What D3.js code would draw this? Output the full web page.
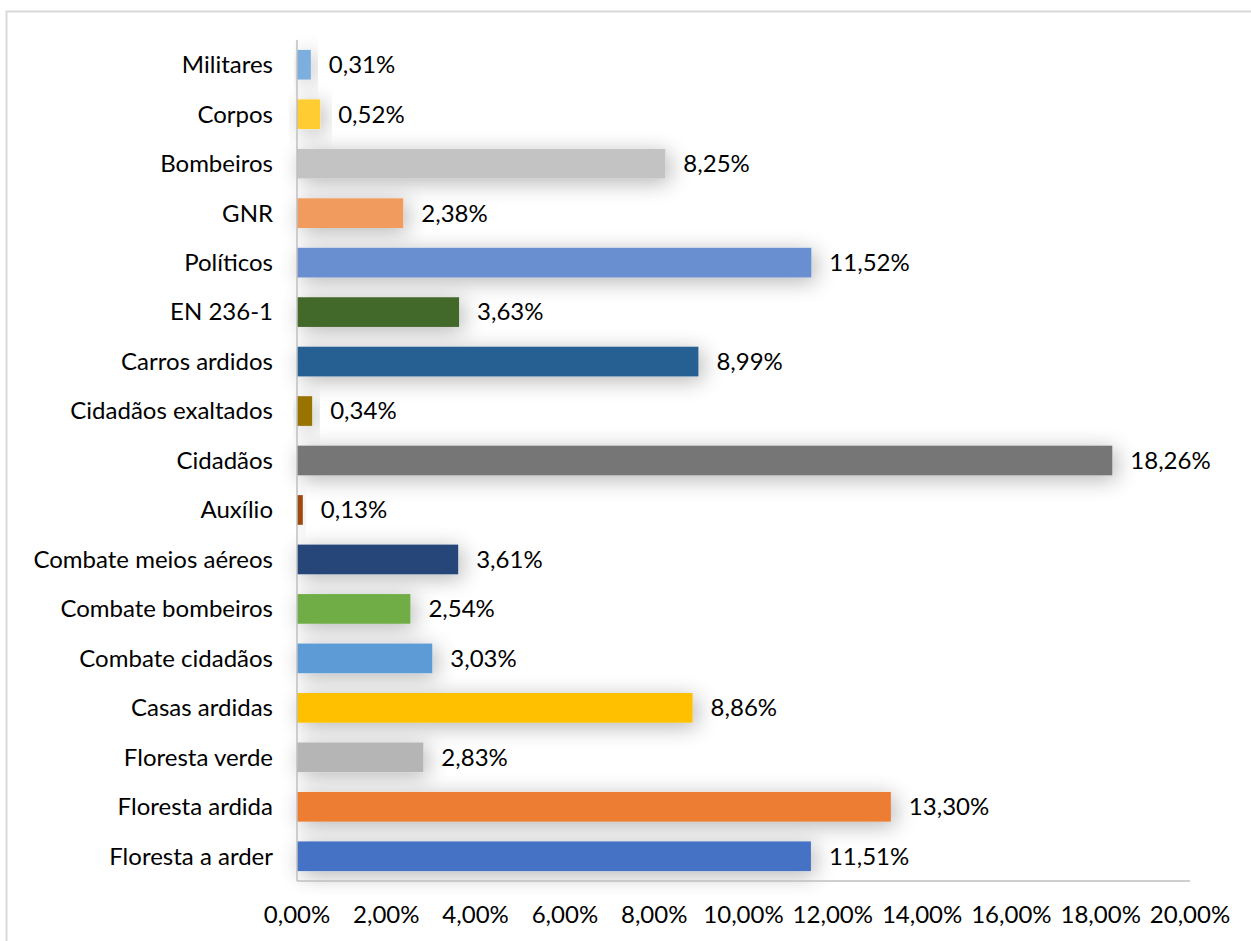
<!DOCTYPE html>
<html><head><meta charset="utf-8">
<script src="https://cdn.jsdelivr.net/npm/d3@7"></script>
<style>
html,body{margin:0;padding:0;background:#fff;}
svg{display:block;}
text{font-family:Lato,"Open Sans",sans-serif;fill:#000;}
</style></head>
<body>
<svg id="chart" width="1251" height="941"></svg>
<script>
const categories = ["Militares","Corpos","Bombeiros","GNR","Políticos","EN 236-1","Carros ardidos","Cidadãos exaltados","Cidadãos","Auxílio","Combate meios aéreos","Combate bombeiros","Combate cidadãos","Casas ardidas","Floresta verde","Floresta ardida","Floresta a arder"];
const values = [0.31,0.52,8.25,2.38,11.52,3.63,8.99,0.34,18.26,0.13,3.61,2.54,3.03,8.86,2.83,13.30,11.51];
const colors = ["#7cafdd","#ffcd33","#c3c3c3","#f29b5e","#6a8fd0","#43682b","#255e91","#997300","#767676","#9e480e","#264478","#70ad47","#5b9bd5","#ffc000","#b5b5b5","#ed7d31","#4472c4"];
const tickValues = [0,2,4,6,8,10,12,14,16,18,20];

const svg = d3.select("#chart");
// frame
svg.append("path").attr("d","M6.5,941 V11.5 H1251").attr("fill","none").attr("stroke","#d9d9d9").attr("stroke-width",2);

const x = d3.scaleLinear().domain([0,20]).range([297,1190]);
const y = d3.scaleBand().domain(categories).range([40,881]).paddingInner(0.4).paddingOuter(0.2);

const defs = svg.append("defs");
const f = defs.append("filter").attr("id","shadow").attr("x","-50%").attr("y","-150%").attr("width","200%").attr("height","400%");
f.append("feGaussianBlur").attr("in","SourceAlpha").attr("stdDeviation",11).attr("result","b");
f.append("feOffset").attr("in","b").attr("dx",4).attr("dy",4).attr("result","o");
f.append("feComponentTransfer").attr("in","o").attr("result","s").append("feFuncA").attr("type","linear").attr("slope",0.3);
const m = f.append("feMerge");
m.append("feMergeNode").attr("in","s");
m.append("feMergeNode").attr("in","SourceGraphic");

const fmt = v => v.toFixed(2).replace(".", ",") + "%";

svg.append("g").selectAll("rect").data(values).join("rect")
  .attr("x", x(0)).attr("y",(d,i)=>y(categories[i]))
  .attr("width", d => x(d)-x(0)).attr("height", y.bandwidth())
  .attr("fill",(d,i)=>colors[i]).attr("filter","url(#shadow)");

// axes lines
svg.append("line").attr("x1",x(0)).attr("x2",x(0)).attr("y1",40).attr("y2",881).attr("stroke","#bfbfbf").attr("stroke-width",1.5);
svg.append("line").attr("x1",x(0)).attr("x2",x(20)).attr("y1",881).attr("y2",881).attr("stroke","#bfbfbf").attr("stroke-width",1.5);

// category labels
svg.append("g").selectAll("text").data(categories).join("text")
  .attr("x",273).attr("y",d=>y(d)+y.bandwidth()/2).attr("dy","0.35em")
  .attr("text-anchor","end").attr("font-size",24).text(d=>d);

// value labels
svg.append("g").selectAll("text").data(values).join("text")
  .attr("x",d=>x(d)+18).attr("y",(d,i)=>y(categories[i])+y.bandwidth()/2).attr("dy","0.35em")
  .attr("font-size",24).text(fmt);

// tick labels
svg.append("g").selectAll("text").data(tickValues).join("text")
  .attr("x",d=>x(d)).attr("y",915).attr("dy","0.35em").attr("text-anchor","middle")
  .attr("font-size",24).text(d=>d.toFixed(2).replace(".", ",")+"%");
</script>
</body></html>
